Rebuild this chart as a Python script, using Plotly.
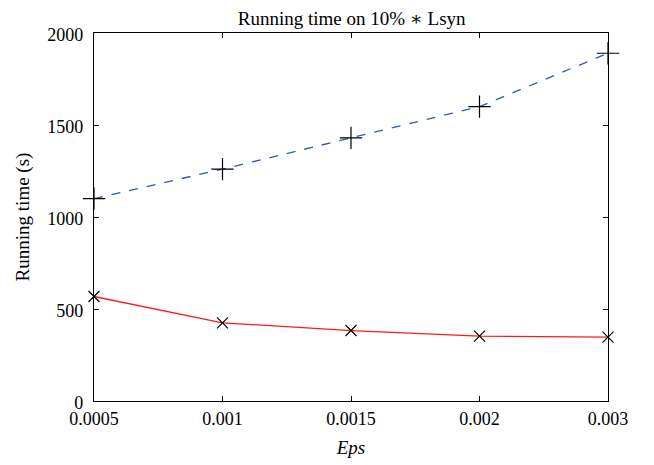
import plotly.graph_objects as go

eps_labels = ["0.0005", "0.001", "0.0015", "0.002", "0.003"]
series_plus = [1100, 1260, 1430, 1600, 1890]
series_x = [568, 425, 383, 353, 347]
y_ticks = [0, 500, 1000, 1500, 2000]

font_family = "Liberation Serif, DejaVu Serif, serif"

fig = go.Figure()
fig.add_trace(go.Scatter(
    x=eps_labels, y=series_plus, mode="lines+markers",
    line=dict(color="#3456b4", width=1.3, dash="dash"),
    marker=dict(symbol="cross-thin", size=16, line=dict(color="black", width=1.2), color="black"),
    cliponaxis=False, showlegend=False))
fig.add_trace(go.Scatter(
    x=eps_labels, y=series_x, mode="lines+markers",
    line=dict(color="#ff1a1a", width=1.3),
    marker=dict(symbol="x-thin", size=11, line=dict(color="black", width=1.2), color="black"),
    cliponaxis=False, showlegend=False))

fig.update_layout(
    width=646, height=457,
    margin=dict(l=86, r=46, t=25, b=64, autoexpand=False),
    paper_bgcolor="white", plot_bgcolor="white",
    font=dict(family=font_family, size=18, color="black"),
    title=dict(text="Running time on 10% ∗ Lsyn", x=0.532, xanchor="center", y=0.992, yanchor="top",
               font=dict(size=19)),
)
fig.update_xaxes(
    type="category", range=[0, 4], tickvals=eps_labels, ticktext=eps_labels,
    ticks="inside", ticklen=5, tickcolor="black", showline=True, linecolor="black", linewidth=1.3,
    mirror="ticks", showgrid=False, zeroline=False, automargin=False,
    tickfont=dict(size=18), ticklabelstandoff=1,
    title=dict(text="<i>Eps</i>", font=dict(size=19), standoff=12),
)
fig.update_yaxes(
    range=[0, 2000], tickvals=y_ticks,
    ticks="inside", ticklen=5, tickcolor="black", showline=True, linecolor="black", linewidth=1.3,
    mirror="ticks", showgrid=False, zeroline=False, automargin=False,
    tickfont=dict(size=18), ticklabelstandoff=6, ticklabelshift=2,
    title=dict(text="Running time (s)", font=dict(size=19), standoff=12),
)
fig.write_html("out.html")
